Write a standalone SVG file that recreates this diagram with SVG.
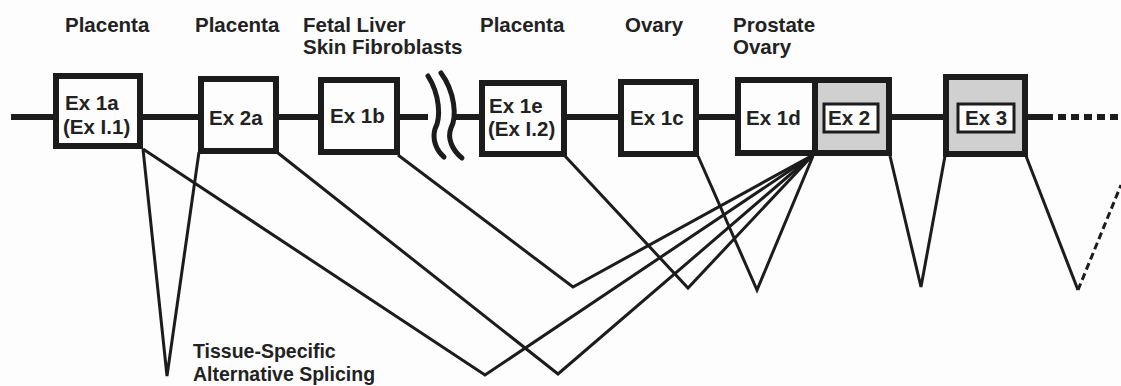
<svg xmlns="http://www.w3.org/2000/svg" width="1121" height="386" viewBox="0 0 1121 386">
<style>
text{font-family:"Liberation Sans",Arial,sans-serif;font-weight:bold;font-size:20.5px;fill:#222}
.small{font-size:19.5px}
.box{fill:#fdfdfd;stroke:#1c1c1c;stroke-width:6}
.gbox{fill:#d0d0d0;stroke:#1c1c1c;stroke-width:6}
.inner{fill:#fdfdfd;stroke:#1c1c1c;stroke-width:3}
.bb{stroke:#1c1c1c;stroke-width:6;fill:none}
.sp{stroke:#1c1c1c;stroke-width:3;fill:none;stroke-linejoin:miter}
.brk{stroke:#1c1c1c;stroke-width:5;fill:none;stroke-linecap:round}
</style>
<rect width="1121" height="386" fill="#fdfdfd"/>
<g id="labels">
<text x="65" y="32">Placenta</text>
<text x="195" y="32">Placenta</text>
<text x="303" y="32">Fetal Liver</text>
<text x="303" y="54">Skin Fibroblasts</text>
<text x="480" y="32">Placenta</text>
<text x="625" y="32">Ovary</text>
<text x="733" y="32">Prostate</text>
<text x="733" y="54">Ovary</text>
<text class="small" x="193" y="358">Tissue-Specific</text>
<text class="small" x="193" y="381">Alternative Splicing</text>
</g>
<g id="connectors">
<path class="bb" d="M11 117H56M140 117H201M276 117H321M397 117H428M453 117H482M564 117H621M696 117H738M889 117H946M1025 117H1045"/>
<path class="bb" d="M1045 117H1121" stroke-dasharray="8 5"/>
<path class="brk" d="M428 76C440 95 441 118 435 129C432 139 436 150 444 157"/>
<path class="brk" d="M441 73C455 92 457 117 451 128C447 138 452 150 462 158"/>
<polyline class="sp" points="143,149 167,376 199,152"/>
<polyline class="sp" points="143,149 485,375 813,155"/>
<polyline class="sp" points="278,153 558,374 813,155"/>
<polyline class="sp" points="398,155 573,287 813,155"/>
<polyline class="sp" points="565,156 688,288 813,155"/>
<polyline class="sp" points="698,156 757,290 813,156"/>
<polyline class="sp" points="890,156 921,287 945,156"/>
<polyline class="sp" points="1026,156 1078,290"/>
<line class="sp" x1="1078" y1="290" x2="1121" y2="185" stroke-dasharray="7 4"/>
</g>
<g id="ex1a"><rect class="box" x="56" y="76" width="84" height="70"/><text x="65" y="110">Ex 1a</text><text x="63" y="134">(Ex I.1)</text></g>
<g id="ex2a"><rect class="box" x="201" y="79" width="75" height="72"/><text x="209" y="125">Ex 2a</text></g>
<g id="ex1b"><rect class="box" x="321" y="80" width="76" height="72"/><text x="330" y="123">Ex 1b</text></g>
<g id="ex1e"><rect class="box" x="482" y="83" width="82" height="71"/><text x="489" y="113">Ex 1e</text><text x="488" y="136">(Ex I.2)</text></g>
<g id="ex1c"><rect class="box" x="621" y="82" width="75" height="72"/><text x="630" y="125">Ex 1c</text></g>
<g id="ex1d"><rect class="box" x="738" y="80" width="77" height="73"/><text x="746" y="125">Ex 1d</text></g>
<g id="ex2"><rect class="gbox" x="815" y="80" width="74" height="73"/><rect class="inner" x="824" y="104" width="54" height="28"/><text x="828" y="125">Ex 2</text></g>
<g id="ex3"><rect class="gbox" x="946" y="77" width="79" height="77"/><rect class="inner" x="958" y="104" width="56" height="28"/><text x="965" y="125">Ex 3</text></g>
</svg>
